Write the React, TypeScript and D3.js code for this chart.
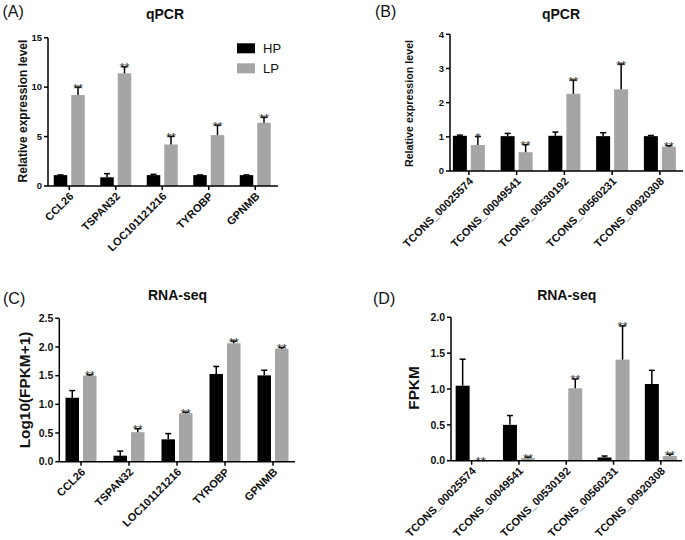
import React from "react";
import * as d3 from "d3";

// ---------- data ----------
const genes = ["CCL26", "TSPAN32", "LOC101121216", "TYROBP", "GPNMB"];
const lncs = ["TCONS_00025574", "TCONS_00049541", "TCONS_00530192", "TCONS_00560231", "TCONS_00920308"];
const seriesNames = ["HP", "LP"];

// (A) qPCR genes
const qpcrGeneHP = [1.1, 0.88, 1.1, 1.1, 1.1];
const qpcrGeneHPErr = [0.02, 0.37, 0.08, 0.02, 0.02];
const qpcrGeneLP = [9.2, 11.4, 4.2, 5.15, 6.4];
const qpcrGeneLPErr = [0.8, 0.65, 0.82, 1.0, 0.55];
const qpcrGeneSig = ["**", "**", "**", "**", "**"];
const qpcrGeneTicks = [0, 5, 10, 15];

// (B) qPCR lncRNAs
const qpcrLncHP = [1.03, 1.02, 1.03, 1.02, 1.02];
const qpcrLncHPErr = [0.02, 0.08, 0.11, 0.1, 0.02];
const qpcrLncLP = [0.76, 0.55, 2.26, 2.39, 0.71];
const qpcrLncLPErr = [0.25, 0.22, 0.4, 0.74, 0.03];
const qpcrLncSig = ["*", "**", "**", "**", "**"];
const qpcrLncTicks = [0, 1, 2, 3, 4];

// (C) RNA-seq genes, log10(FPKM+1)
const seqGeneHP = [1.115, 0.105, 0.39, 1.53, 1.505];
const seqGeneHPErr = [0.125, 0.08, 0.1, 0.13, 0.09];
const seqGeneLP = [1.5, 0.515, 0.843, 2.064, 1.97];
const seqGeneLPErr = [0.015, 0.06, 0.02, 0.04, 0.02];
const seqGeneSig = ["**", "**", "**", "**", "**"];
const seqGeneTicks = [0, 0.5, 1.0, 1.5, 2.0, 2.5];

// (D) RNA-seq lncRNAs, FPKM
const seqLncHP = [1.046, 0.5, 0, 0.045, 1.07];
const seqLncHPErr = [0.37, 0.13, 0, 0.02, 0.19];
const seqLncLP = [0, 0.035, 1.01, 1.41, 0.065];
const seqLncLPErr = [0, 0.015, 0.13, 0.47, 0.025];
const seqLncSig = ["**", "**", "**", "**", "**"];
const seqLncTicks = [0, 0.5, 1.0, 1.5, 2.0];

// ---------- styles ----------
const FONT = "'Liberation Sans', Arial, Helvetica, sans-serif";
const COLORS: Record<string, string> = { HP: "#000000", LP: "#a5a5a5" };

type PanelProps = {
  letter: string;
  letterX: number;
  letterY: number;
  title: string;
  titleX: number;
  titleY: number;
  cats: string[];
  hp: number[];
  hpErr: number[];
  lp: number[];
  lpErr: number[];
  sig: string[];
  ticks: number[];
  tickFmt: (v: number) => string;
  yMax: number;
  axisX: number;
  xStart: number;
  xEnd: number;
  axisEnd: number;
  yBottom: number;
  yTop: number;
  barW: number;
  gap: number;
  ylabel: string;
  ylabelX: number;
  ylabelY: number;
  ylabelSize: number;
  tickSize: number;
  xlabSize: number;
};

function Panel(p: PanelProps) {
  const x = d3.scaleBand<string>().domain(p.cats).range([p.xStart, p.xEnd]).paddingInner(0).paddingOuter(0);
  const y = d3.scaleLinear().domain([0, p.yMax]).range([p.yBottom, p.yTop]);
  const series = [
    { name: "HP", vals: p.hp, errs: p.hpErr, off: -(p.gap / 2 + p.barW / 2) },
    { name: "LP", vals: p.lp, errs: p.lpErr, off: p.gap / 2 + p.barW / 2 },
  ];
  const cx = (c: string) => (x(c) as number) + x.bandwidth() / 2;
  return (
    <g fontFamily={FONT}>
      <text x={p.letterX} y={p.letterY} fontSize={16} fill="#111">{p.letter}</text>
      <text x={p.titleX} y={p.titleY} fontSize={14} fontWeight="bold" textAnchor="middle" fill="#111">{p.title}</text>
      {series.map((s) =>
        p.cats.map((c, i) => {
          const bx = cx(c) + s.off;
          const v = s.vals[i];
          const top = y(v);
          const et = y(v + s.errs[i]);
          return (
            <g key={s.name + c}>
              {v > 0 && (
                <rect x={bx - p.barW / 2} y={top} width={p.barW} height={p.yBottom - top} fill={COLORS[s.name]} />
              )}
              {s.errs[i] > 0 && (
                <g stroke="#000" strokeWidth={1.5}>
                  <line x1={bx} x2={bx} y1={top} y2={et} />
                  <line x1={bx - 3} x2={bx + 3} y1={et} y2={et} />
                </g>
              )}
            </g>
          );
        })
      )}
      {p.cats.map((c, i) => {
        const bx = cx(c) + series[1].off;
        const et = y(p.lp[i] + p.lpErr[i]);
        return (
          <text key={"sig" + c} x={bx} y={et + 5.5} fontSize={13} textAnchor="middle" fill="#333">{p.sig[i]}</text>
        );
      })}
      {/* y axis */}
      <line x1={p.axisX} x2={p.axisX} y1={p.yTop} y2={p.yBottom} stroke="#000" strokeWidth={1.5} />
      {p.ticks.map((t) => (
        <g key={"yt" + t}>
          <line x1={p.axisX - 4} x2={p.axisX} y1={y(t)} y2={y(t)} stroke="#000" strokeWidth={1.5} />
          <text x={p.axisX - 6} y={y(t)} dy="0.35em" fontSize={p.tickSize} fontWeight="bold" textAnchor="end" fill="#111">
            {p.tickFmt(t)}
          </text>
        </g>
      ))}
      {/* x axis */}
      <line x1={p.axisX} x2={p.axisEnd} y1={p.yBottom} y2={p.yBottom} stroke="#000" strokeWidth={1.5} />
      {p.cats.map((c) => (
        <g key={"xt" + c}>
          <line x1={cx(c)} x2={cx(c)} y1={p.yBottom} y2={p.yBottom + 4} stroke="#000" strokeWidth={1.5} />
          <text
            transform={`translate(${cx(c) + 5},${p.yBottom + 11}) rotate(-45)`}
            fontSize={p.xlabSize}
            fontWeight="bold"
            textAnchor="end"
            fill="#111"
          >
            {c}
          </text>
        </g>
      ))}
      <text
        transform={`translate(${p.ylabelX},${p.ylabelY}) rotate(-90)`}
        dy="0.35em"
        fontSize={p.ylabelSize}
        fontWeight="bold"
        textAnchor="middle"
        fill="#111"
      >
        {p.ylabel}
      </text>
    </g>
  );
}

export default function App() {
  const f0 = d3.format("d");
  const f1 = d3.format(".1f");
  return (
    <svg width={685} height={540} style={{ position: "absolute", left: 0, top: 0, background: "#fff" }}>
      <rect width={685} height={540} fill="#fff" />
      <Panel
        letter="(A)" letterX={2.5} letterY={16.5}
        title="qPCR" titleX={165} titleY={19}
        cats={genes} hp={qpcrGeneHP} hpErr={qpcrGeneHPErr} lp={qpcrGeneLP} lpErr={qpcrGeneLPErr} sig={qpcrGeneSig}
        ticks={qpcrGeneTicks} tickFmt={f0} yMax={15}
        axisX={48} xStart={46} xEnd={278.5} axisEnd={278} yBottom={186} yTop={37.7}
        barW={13.5} gap={4}
        ylabel="Relative expression level" ylabelX={22.5} ylabelY={111} ylabelSize={12}
        tickSize={9.5} xlabSize={11}
      />
      <Panel
        letter="(B)" letterX={375} letterY={16.5}
        title="qPCR" titleX={561} titleY={18.5}
        cats={lncs} hp={qpcrLncHP} hpErr={qpcrLncHPErr} lp={qpcrLncLP} lpErr={qpcrLncLPErr} sig={qpcrLncSig}
        ticks={qpcrLncTicks} tickFmt={f0} yMax={4}
        axisX={450} xStart={445} xEnd={683.75} axisEnd={683} yBottom={171} yTop={34.3}
        barW={14} gap={4}
        ylabel="Relative expression level" ylabelX={409} ylabelY={103.5} ylabelSize={10.7}
        tickSize={9.5} xlabSize={11}
      />
      <Panel
        letter="(C)" letterX={3} letterY={303.5}
        title="RNA-seq" titleX={177.5} titleY={300}
        cats={genes} hp={seqGeneHP} hpErr={seqGeneHPErr} lp={seqGeneLP} lpErr={seqGeneLPErr} sig={seqGeneSig}
        ticks={seqGeneTicks} tickFmt={f1} yMax={2.5}
        axisX={59.3} xStart={57} xEnd={297} axisEnd={295} yBottom={461.7} yTop={318.3}
        barW={13.5} gap={4}
        ylabel="Log10(FPKM+1)" ylabelX={25} ylabelY={390} ylabelSize={15.4}
        tickSize={10.5} xlabSize={11}
      />
      <Panel
        letter="(D)" letterX={373} letterY={304}
        title="RNA-seq" titleX={566.7} titleY={300}
        cats={lncs} hp={seqLncHP} hpErr={seqLncHPErr} lp={seqLncLP} lpErr={seqLncLPErr} sig={seqLncSig}
        ticks={seqLncTicks} tickFmt={f1} yMax={2}
        axisX={451} xStart={448} xEnd={684.5} axisEnd={682} yBottom={460.7} yTop={317.3}
        barW={14} gap={4}
        ylabel="FPKM" ylabelX={414} ylabelY={388} ylabelSize={15.3}
        tickSize={10.5} xlabSize={11}
      />
      {/* legend for panel A */}
      <g fontFamily={FONT}>
        {seriesNames.map((s, i) => (
          <g key={"leg" + s}>
            <rect x={237} y={43.3 + i * 20} width={18} height={10} fill={COLORS[s]} />
            <text x={263} y={53.3 + i * 20} fontSize={13} fill="#111">{s}</text>
          </g>
        ))}
      </g>
    </svg>
  );
}
